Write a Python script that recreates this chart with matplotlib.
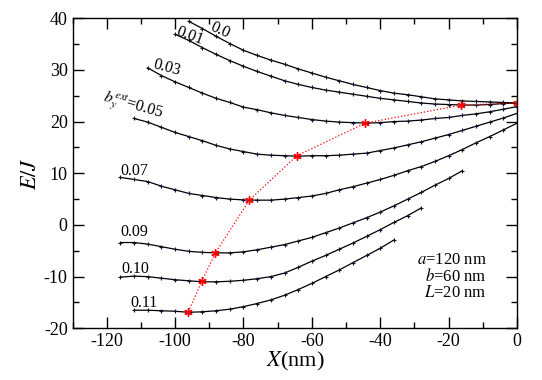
import numpy as np
import matplotlib
matplotlib.use('Agg')
from matplotlib import pyplot as plt
from matplotlib.ticker import MultipleLocator, FuncFormatter

plt.rcParams['font.family'] = 'serif'
plt.rcParams['font.serif'] = ['Liberation Serif', 'DejaVu Serif']
plt.rcParams['mathtext.fontset'] = 'stix'

# energy curves E/J vs X(nm), one per b_y^ext, sampled every 4 nm
x_00 = list(range(-96, 1, 4))
y_00 = [39.4, 38.0, 36.5, 35.1, 33.8, 32.8, 31.9, 31.1, 30.2, 29.4, 28.6, 27.9, 27.2,
        26.6, 26.0, 25.5, 25.2, 24.8, 24.4, 24.2, 24.0, 23.9, 23.8, 23.7, 23.6]

x_01 = list(range(-100, 1, 4))
y_01 = [36.9, 35.7, 34.3, 33.0, 31.8, 30.7, 29.7, 28.8, 27.9, 27.2, 26.6, 26.1, 25.7,
        25.3, 24.9, 24.5, 24.2, 23.9, 23.6, 23.4, 23.3, 23.2, 23.2, 23.3, 23.5, 23.6]

x_03 = list(range(-108, 1, 4))
y_03 = [30.4, 28.9, 27.7, 26.6, 25.5, 24.5, 23.7, 22.8, 22.3, 21.7, 21.2, 20.8, 20.4,
        20.1, 19.9, 19.8, 19.7, 19.8, 20.0, 20.1, 20.3, 20.6, 20.8, 21.2, 21.5, 21.9,
        22.4, 22.9]

x_05 = list(range(-112, 1, 4))
y_05 = [20.6, 19.9, 18.9, 17.9, 17.1, 16.3, 15.4, 14.7, 14.2, 13.7, 13.5, 13.4, 13.3,
        13.4, 13.4, 13.5, 13.7, 13.9, 14.4, 14.9, 15.5, 16.1, 16.8, 17.5, 18.3, 19.1,
        19.9, 20.7, 21.6]

x_07 = list(range(-116, 1, 4))
y_07 = [9.2, 8.8, 8.4, 7.5, 6.8, 6.1, 5.7, 5.3, 5.0, 4.85, 4.8, 4.8, 5.0, 5.3, 5.6,
        6.1, 6.8, 7.4, 8.1, 8.8, 9.6, 10.5, 11.3, 12.3, 13.4, 14.6, 15.9, 17.1, 18.4,
        19.7]

x_09 = list(range(-116, -15, 4))
y_09 = [-3.4, -3.4, -3.7, -4.2, -4.7, -5.1, -5.3, -5.4, -5.4, -5.2, -4.8, -4.3, -3.8,
        -3.1, -2.4, -1.5, -0.6, 0.4, 1.4, 2.5, 3.7, 5.0, 6.3, 7.7, 9.0, 10.5]

x_10 = list(range(-116, -27, 4))
y_10 = [-10.1, -9.9, -10.0, -10.3, -10.6, -10.8, -11.0, -11.0, -10.9, -10.7, -10.4,
        -10.0, -9.3, -8.2, -7.0, -5.9, -4.7, -3.5, -2.2, -0.9, 0.5, 1.8, 3.3]

x_11 = list(range(-112, -35, 4))
y_11 = [-16.5, -16.5, -16.6, -16.7, -16.9, -16.8, -16.6, -16.3, -15.8, -15.2, -14.5,
        -13.6, -12.5, -11.3, -10.0, -8.7, -7.3, -5.9, -4.5, -2.9]

curves = [(x_00, y_00), (x_01, y_01), (x_03, y_03), (x_05, y_05),
          (x_07, y_07), (x_09, y_09), (x_10, y_10), (x_11, y_11)]

# energy minima of each curve
min_x = [0, -16.3, -44.4, -64.4, -78.3, -88.2, -92.2, -96.2]
min_y = [23.6, 23.2, 19.7, 13.4, 4.8, -5.4, -10.9, -16.9]

fig = plt.figure(figsize=(5.42, 3.80), dpi=100)
ax = fig.add_axes([0.1338, 0.136, 0.954 - 0.1338, 0.952 - 0.136])

for xs, ys in curves:
    ax.plot(xs, ys, color='black', linewidth=0.9, marker='+', markersize=3,
            markeredgewidth=0.8, markeredgecolor='#101030')

ax.plot(min_x, min_y, color='red', linestyle=':', linewidth=0.9)
ax.plot(min_x, min_y, linestyle='none', marker=(6, 2, 0), markersize=6,
        markeredgewidth=1.0, color='red')

# curve labels
ax.text(-86.8, 37.7, '0.0', fontsize=11.5, rotation=-24, ha='center', va='center')
ax.text(-95.6, 36.5, '0.01', fontsize=11.5, rotation=-20, ha='center', va='center')
ax.text(-102.4, 30.5, '0.03', fontsize=11.5, rotation=-15, ha='center', va='center')
ax.text(-112.3, 22.8, r'$b_y^{ext}$=0.05', fontsize=11.5, rotation=-16, ha='center', va='center')
ax.text(-115.9, 9.6, '0.07', fontsize=11.5, ha='left', va='baseline')
ax.text(-116.1, -2.1, '0.09', fontsize=11.5, ha='left', va='baseline')
ax.text(-115.6, -9.2, '0.10', fontsize=11.5, ha='left', va='baseline')
ax.text(-113.2, -15.9, '0.11', fontsize=11.5, ha='left', va='baseline')

ax.text(-8.8, -5.2, '$a$=120 nm\n$b$=60 nm\n$L$=20 nm', fontsize=12,
        ha='right', va='top', multialignment='right', linespacing=1.0)

ax.set_xlim(-130, 0)
ax.set_ylim(-20, 40)
ax.xaxis.set_major_locator(MultipleLocator(20))
ax.xaxis.set_minor_locator(MultipleLocator(10))
ax.yaxis.set_major_locator(MultipleLocator(10))
ax.yaxis.set_minor_locator(MultipleLocator(5))
ax.tick_params(which='both', direction='in', top=True, right=True, labelsize=13, width=1.0)
ax.tick_params(which='major', length=8)
ax.tick_params(which='minor', length=4.5)
ax.xaxis.set_major_formatter(FuncFormatter(lambda v, p: '%d' % v))
ax.yaxis.set_major_formatter(FuncFormatter(lambda v, p: '%d' % v))
for s in ax.spines.values():
    s.set_linewidth(1.0)

ax.set_xlabel('$X$(nm)', fontsize=16, labelpad=0)
ax.set_ylabel('$E/J$', fontsize=16, labelpad=2)

plt.savefig('out.png', dpi=100)
